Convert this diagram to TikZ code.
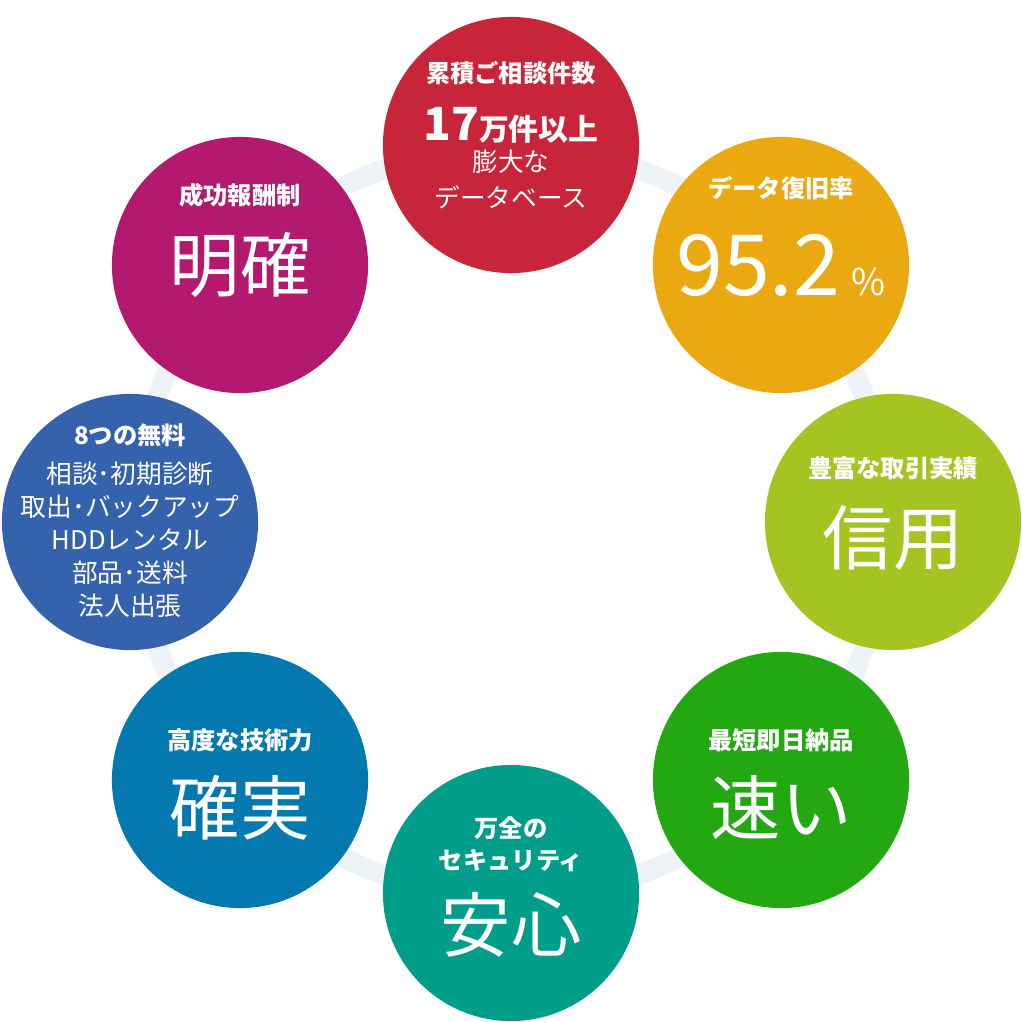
\documentclass[tikz,border=0pt]{standalone}
\usepackage{fontspec}
\setmainfont{Noto Sans CJK JP}
\definecolor{cred}{HTML}{C8243A}
\definecolor{corange}{HTML}{EBA911}
\definecolor{clgreen}{HTML}{A5C422}
\definecolor{cgreen}{HTML}{23A812}
\definecolor{cteal}{HTML}{009E8A}
\definecolor{cblue}{HTML}{0479B0}
\definecolor{cnavy}{HTML}{3462AC}
\definecolor{cmag}{HTML}{B2196F}
\definecolor{cring}{HTML}{EEF3F8}
\tikzset{
  ball/.style={circle,minimum size=2.56cm,inner sep=0pt},
  hd/.style={text=white,font=\fontsize{6.9pt}{7.5pt}\selectfont\bfseries},
  big/.style={text=white,font=\fontsize{20pt}{22pt}\selectfont},
  sm/.style={text=white,font=\fontsize{7.3pt}{8pt}\selectfont,align=center},
}
\begin{document}
\begin{tikzpicture}[x=0.01cm,y=-0.01cm]
\useasboundingbox (0,0) rectangle (1022,1022);
\draw[cring,line width=0.2cm] (511,522) circle[radius=375];
\node[ball,fill=cred] (r) at (511,145) {};
\node[ball,fill=corange] (o) at (781,265) {};
\node[ball,fill=clgreen] (lg) at (893,522) {};
\node[ball,fill=cgreen] (g) at (781,780) {};
\node[ball,fill=cteal] (t) at (511,893) {};
\node[ball,fill=cblue] (b) at (240,780) {};
\node[ball,fill=cnavy] (n) at (130,522) {};
\node[ball,fill=cmag] (m) at (240,265) {};
% red
\node[hd] (r1) at (511,73) {累積ご相談件数};
\node[text=white,font=\bfseries] (r2) at (511,125) {{\fontsize{13pt}{13pt}\selectfont 17}{\fontsize{8.5pt}{8.5pt}\selectfont 万件以上}};
\node[sm] (r3) at (511,162) {膨大な};
\node[sm] (r4) at (511,197) {データベース};
% orange
\node[hd] (o1) at (781,188) {データ復旧率};
\node[big] (o2) at (781,265) {{\fontsize{24pt}{24pt}\selectfont 95.2}\,{\fontsize{10.5pt}{10.5pt}\selectfont \%}};
% light green
\node[hd] (lg1) at (893,468) {豊富な取引実績};
\node[big] (lg2) at (893,538) {信用};
% green
\node[hd] (g1) at (781,740) {最短即日納品};
\node[big] (g2) at (781,808) {速い};
% teal
\node[hd] (t1) at (511,828) {万全の};
\node[hd] (t2) at (511,861) {セキュリティ};
\node[big] (t3) at (511,925) {安心};
% blue
\node[hd] (b1) at (240,740) {高度な技術力};
\node[big] (b2) at (240,808) {確実};
% navy
\node[hd] (n1) at (130,435) {8つの無料};
\node[sm,font=\fontsize{7.3pt}{9.4pt}\selectfont] (n2) at (130,540) {相談･初期診断\\取出･バックアップ\\HDDレンタル\\部品･送料\\法人出張};
% magenta
\node[hd] (m1) at (240,195) {成功報酬制};
\node[big] (m2) at (240,265) {明確};
\end{tikzpicture}
\end{document}
